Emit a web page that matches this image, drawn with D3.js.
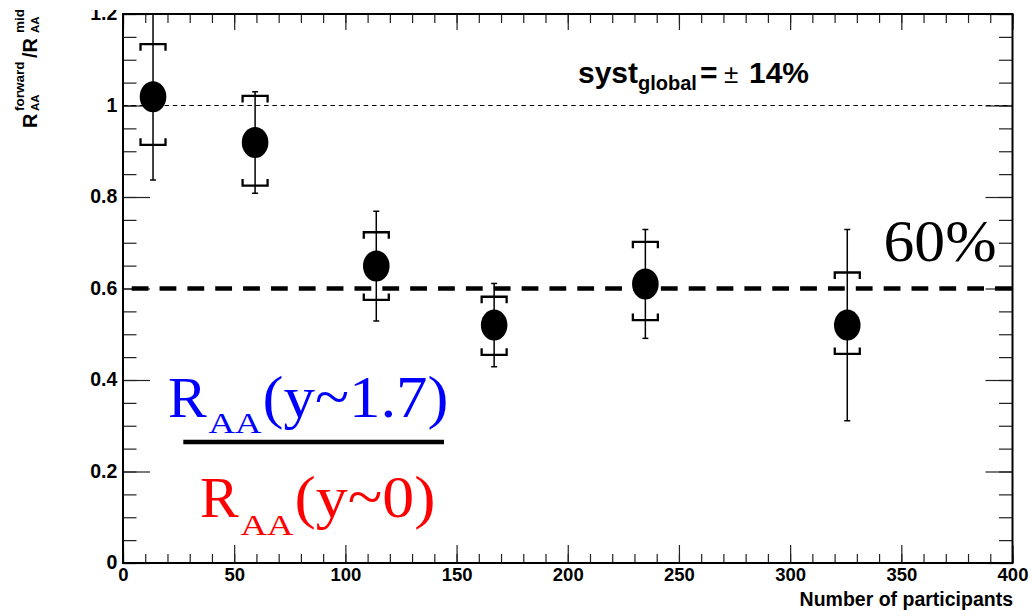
<!DOCTYPE html>
<html>
<head>
<meta charset="utf-8">
<script src="https://cdn.jsdelivr.net/npm/d3@7"></script>
<style>
  html, body { margin: 0; padding: 0; background: #fff; }
  svg { display: block; }
  .sans { font-family: "Liberation Sans", Arial, Helvetica, sans-serif; font-weight: bold; }
  .serif { font-family: "Liberation Serif", "Times New Roman", serif; }
</style>
</head>
<body>
<svg id="chart" width="1032" height="616"></svg>
<script>
// Forward-to-mid rapidity R_AA ratio versus centrality (number of participants)
const npart     = [13.5, 59.4, 113.9, 166.9, 234.9, 325.7];
const ratio     = [1.019, 0.919, 0.649, 0.520, 0.610, 0.520];
const statErr   = [0.182, 0.111, 0.120, 0.091, 0.119, 0.209];
const systUp    = [0.115, 0.102, 0.074, 0.062, 0.092, 0.115];
const systDown  = [0.105, 0.094, 0.074, 0.065, 0.079, 0.063];

const xTicks      = [0, 50, 100, 150, 200, 250, 300, 350, 400];
const xMinorTicks = d3.range(0, 401, 10);
const yTicks      = [0, 0.2, 0.4, 0.6, 0.8, 1.0, 1.2];
const yTickLabels = ["0", "0.2", "0.4", "0.6", "0.8", "1", "1.2"];
const yMinorTicks = d3.range(0, 1.2001, 0.05);

const unityLevel = 1.0;
const suppressionLevel = 0.6;

const svg = d3.select("#chart");
const L = 123, R = 1012.5, T = 14, B = 563;
const x = d3.scaleLinear().domain([0, 400]).range([L, R]);
const y = d3.scaleLinear().domain([0, 1.2]).range([B, T]);

svg.append("defs").append("clipPath").attr("id", "plotClip")
  .append("rect").attr("x", L).attr("y", T).attr("width", R - L).attr("height", B - T);

// ---- axes (ROOT style: ticks pointing inward on all four sides) ----
function styleAxis(g) {
  g.select(".domain").remove();
  g.selectAll(".tick line").attr("stroke", "#222").attr("stroke-width", 1.2);
}
// bottom
svg.append("g").attr("transform", `translate(0,${B})`)
  .call(d3.axisBottom(x).tickValues(xMinorTicks).tickSize(-9).tickFormat(""))
  .call(styleAxis);
const xAx = svg.append("g").attr("transform", `translate(0,${B})`)
  .call(d3.axisBottom(x).tickValues(xTicks).tickSize(-18).tickFormat(d3.format("d")))
  .call(styleAxis);
xAx.selectAll("text").attr("class", "sans").attr("font-size", 18.5)
  .attr("fill", "#000").attr("y", 17.7).attr("dy", null);
// top
svg.append("g").attr("transform", `translate(0,${T})`)
  .call(d3.axisTop(x).tickValues(xMinorTicks).tickSize(-9).tickFormat(""))
  .call(styleAxis);
svg.append("g").attr("transform", `translate(0,${T})`)
  .call(d3.axisTop(x).tickValues(xTicks).tickSize(-16).tickFormat(""))
  .call(styleAxis);
// left
svg.append("g").attr("transform", `translate(${L},0)`)
  .call(d3.axisLeft(y).tickValues(yMinorTicks).tickSize(-13.5).tickFormat(""))
  .call(styleAxis);
const yAx = svg.append("g").attr("transform", `translate(${L},0)`)
  .call(d3.axisLeft(y).tickValues(yTicks).tickSize(-27)
    .tickFormat((d, i) => yTickLabels[i]))
  .call(styleAxis);
yAx.selectAll("text").attr("class", "sans").attr("font-size", 19.5)
  .attr("fill", "#000").attr("x", -5.7).attr("dy", 5.7);
// right
svg.append("g").attr("transform", `translate(${R},0)`)
  .call(d3.axisRight(y).tickValues(yMinorTicks).tickSize(-13.5).tickFormat(""))
  .call(styleAxis);
svg.append("g").attr("transform", `translate(${R},0)`)
  .call(d3.axisRight(y).tickValues(yTicks).tickSize(-27).tickFormat(""))
  .call(styleAxis);

// strip above the frame (top label is cut at the edge)
svg.append("rect").attr("x", 0).attr("y", 0).attr("width", L - 2).attr("height", 10).attr("fill", "#fff");

// frame
svg.append("rect").attr("x", L).attr("y", T).attr("width", R - L).attr("height", B - T)
  .attr("fill", "none").attr("stroke", "#000").attr("stroke-width", 2);

// axis titles
svg.append("text").attr("class", "sans").attr("font-size", 19.5)
  .attr("x", 1013).attr("y", 605.7).attr("text-anchor", "end")
  .text("Number of participants");

const yt = svg.append("text").attr("class", "sans")
  .attr("transform", "translate(37,128) rotate(-90)");
yt.append("tspan").attr("x", 0).attr("y", 0).attr("font-size", 20).text("R");
yt.append("tspan").attr("x", 17).attr("y", -13).attr("font-size", 13.5).text("forward");
yt.append("tspan").attr("x", 17).attr("y", 1.5).attr("font-size", 11.5).text("AA");
yt.append("tspan").attr("x", 70).attr("y", 0).attr("font-size", 20).text("/R");
yt.append("tspan").attr("x", 95).attr("y", -13).attr("font-size", 13.5).text("mid");
yt.append("tspan").attr("x", 95).attr("y", 1.5).attr("font-size", 11.5).text("AA");

// ---- reference lines ----
const plot = svg.append("g").attr("clip-path", "url(#plotClip)");
plot.append("line")
  .attr("x1", x(0)).attr("x2", x(400)).attr("y1", y(unityLevel)).attr("y2", y(unityLevel))
  .attr("stroke", "#000").attr("stroke-width", 1).attr("stroke-dasharray", "4.5 3.8");
plot.append("line")
  .attr("x1", x(0)).attr("x2", x(400)).attr("y1", y(suppressionLevel)).attr("y2", y(suppressionLevel))
  .attr("stroke", "#000").attr("stroke-width", 4.6)
  .attr("stroke-dasharray", "16.8 11.05").attr("stroke-dashoffset", 19.15);

// ---- data ----
const pts = npart.map((n, i) => ({
  n, v: ratio[i], s: statErr[i], su: systUp[i], sd: systDown[i]
}));

// statistical error bars
const stat = plot.append("g").attr("stroke", "#000").attr("stroke-width", 1.5);
pts.forEach(p => {
  const cx = x(p.n);
  stat.append("line").attr("x1", cx).attr("x2", cx)
    .attr("y1", y(p.v - p.s)).attr("y2", y(p.v + p.s));
  [p.v - p.s, p.v + p.s].forEach(e => {
    stat.append("line").attr("x1", cx - 3).attr("x2", cx + 3)
      .attr("y1", y(e)).attr("y2", y(e));
  });
});

// systematic brackets
const bw = 12.5, arm = 6.5;
const syst = plot.append("g").attr("stroke", "#000").attr("stroke-width", 2.3)
  .attr("fill", "none");
pts.forEach(p => {
  const cx = x(p.n);
  const yt1 = y(p.v + p.su), yb1 = y(p.v - p.sd);
  syst.append("path").attr("d",
    `M${cx - bw},${yt1 + arm}V${yt1}H${cx + bw}V${yt1 + arm}`);
  syst.append("path").attr("d",
    `M${cx - bw},${yb1 - arm}V${yb1}H${cx + bw}V${yb1 - arm}`);
});

// markers
plot.append("g").selectAll("ellipse").data(pts).join("ellipse")
  .attr("cx", d => x(d.n)).attr("cy", d => y(d.v))
  .attr("rx", 13.3).attr("ry", 15.5).attr("fill", "#000");

// ---- annotations ----
const st = svg.append("text").attr("class", "sans").attr("y", 82.7);
st.append("tspan").attr("x", 578).attr("font-size", 30).text("syst");
st.append("tspan").attr("x", 638).attr("y", 90).attr("font-size", 20).text("global");
st.append("tspan").attr("x", 700).attr("y", 82.7).attr("font-size", 30).text("=");
st.append("tspan").attr("x", 724).attr("y", 82.7).attr("font-size", 26)
  .attr("font-weight", "normal").text("±");
st.append("tspan").attr("x", 749).attr("y", 82.7).attr("font-size", 30).text("14%");

svg.append("text").attr("class", "serif").attr("x", 883.5).attr("y", 261)
  .attr("font-size", 60).attr("fill", "#000")
  .attr("textLength", 113).attr("lengthAdjust", "spacingAndGlyphs").text("60%");

// ratio legend: forward over mid rapidity
const num = svg.append("text").attr("class", "serif").attr("fill", "#0000ff");
num.append("tspan").attr("x", 168).attr("y", 416.7).attr("font-size", 58).text("R");
num.append("tspan").attr("x", 208.5).attr("y", 433.3).attr("font-size", 30)
  .attr("textLength", 53).attr("lengthAdjust", "spacingAndGlyphs").text("AA");
num.append("tspan").attr("x", 262.5).attr("y", 416.7).attr("font-size", 60)
  .attr("textLength", 186).attr("lengthAdjust", "spacingAndGlyphs").text("(y~1.7)");

svg.append("line").attr("x1", 183.3).attr("x2", 444).attr("y1", 442).attr("y2", 442)
  .attr("stroke", "#000").attr("stroke-width", 4.3);

const den = svg.append("text").attr("class", "serif").attr("fill", "#ff0000");
den.append("tspan").attr("x", 200).attr("y", 517).attr("font-size", 58).text("R");
den.append("tspan").attr("x", 240.5).attr("y", 535).attr("font-size", 30)
  .attr("textLength", 53).attr("lengthAdjust", "spacingAndGlyphs").text("AA");
den.append("tspan").attr("x", 294.5).attr("y", 517).attr("font-size", 60)
  .attr("textLength", 141).attr("lengthAdjust", "spacingAndGlyphs").text("(y~0)");
</script>
</body>
</html>
